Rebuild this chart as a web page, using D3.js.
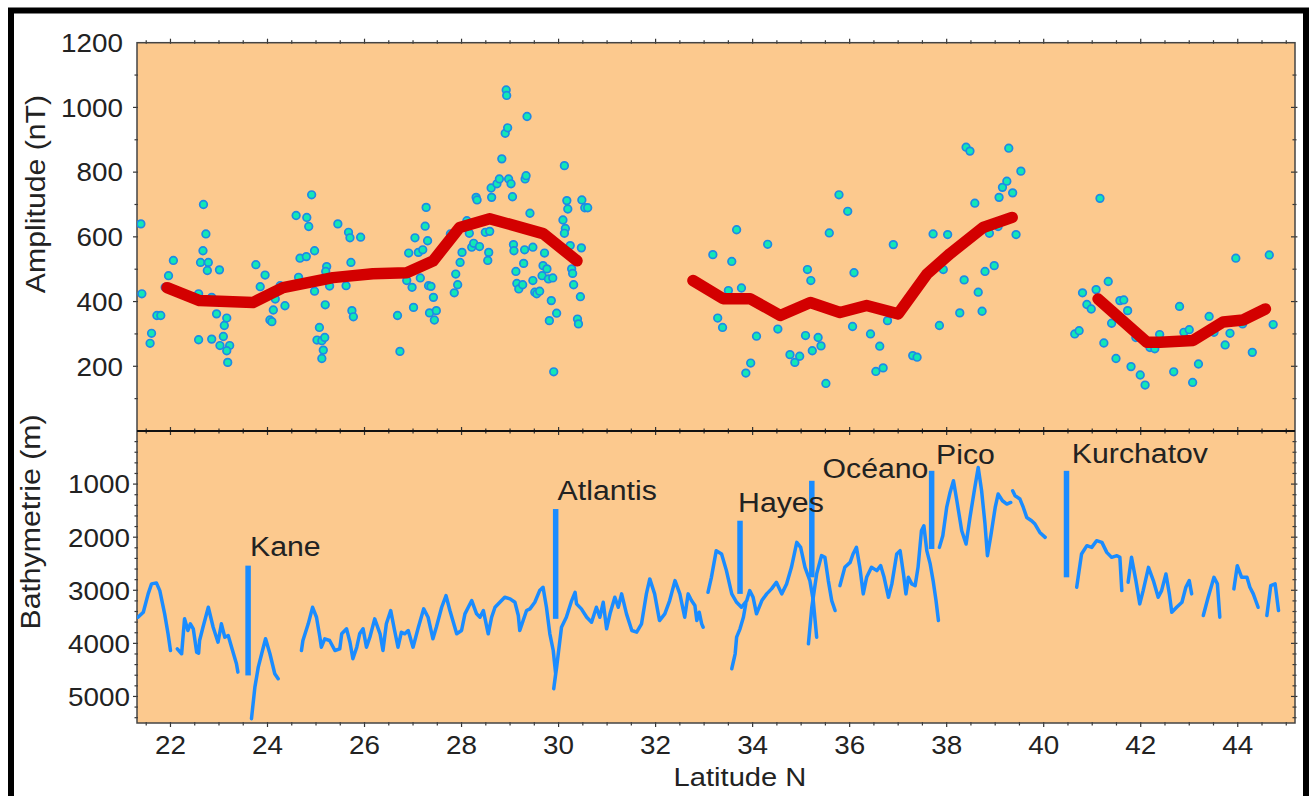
<!DOCTYPE html>
<html><head><meta charset="utf-8">
<script src="https://cdn.jsdelivr.net/npm/d3@7/dist/d3.min.js"></script>
<style>
html,body{margin:0;padding:0;background:#fff;}
svg text{font-family:"Liberation Sans",Arial,Helvetica,sans-serif;fill:#222;}
</style></head>
<body>
<svg id="chart" width="1309" height="796"></svg>
<script>
// ---------------- DATA ----------------
const scatterLat = [
21.39,21.41,21.58,21.61,21.72,21.80,21.89,21.96,22.06,22.58,22.58,22.62,22.67,22.68,22.73,22.78,22.76,22.85,22.95,23.01,
23.09,23.11,23.16,23.02,23.22,23.16,23.18,22.85,23.76,23.95,23.85,24.05,24.09,24.12,24.16,24.36,24.26,24.59,24.81,24.85,
24.91,24.97,24.67,24.80,24.64,24.97,25.19,25.07,25.02,25.12,25.18,25.15,25.12,25.22,25.20,25.28,25.45,25.67,25.70,25.72,
25.62,25.74,25.77,25.92,26.68,26.73,26.91,26.87,26.98,27.01,27.04,27.11,27.20,27.15,27.25,27.27,27.30,27.32,27.37,27.42,
27.34,27.48,27.44,27.77,27.85,27.88,27.92,27.97,28.01,28.11,28.16,28.21,28.25,28.30,28.32,28.37,28.49,28.54,28.56,28.58,
28.61,28.62,28.73,28.78,28.83,28.90,28.95,28.92,28.93,28.97,29.02,29.05,29.07,29.08,29.12,29.14,29.18,29.26,29.28,29.30,
29.31,29.33,29.35,29.41,29.47,29.47,29.51,29.55,29.61,29.66,29.68,29.71,29.76,29.79,29.88,29.85,29.81,29.96,29.90,30.09,
30.12,30.14,30.12,30.17,30.19,30.24,30.27,30.29,30.31,30.39,30.41,30.45,30.47,30.48,30.54,30.60,
33.18,33.67,33.57,33.50,33.77,33.28,33.38,34.08,33.96,33.86,34.31,34.52,34.77,34.87,34.97,35.09,35.13,35.20,35.23,35.35,
35.41,35.51,35.58,35.78,35.96,36.09,36.06,36.43,36.62,36.54,36.69,36.78,36.90,37.30,37.39,37.85,37.72,38.02,37.93,38.27,
38.36,38.58,38.40,38.48,38.65,38.73,38.79,38.88,38.98,39.06,39.08,39.15,39.24,39.28,39.36,39.43,39.53,
41.16,40.64,40.73,40.80,40.89,40.98,41.08,41.33,41.57,41.65,41.73,41.40,41.24,41.49,41.80,41.99,42.09,41.90,42.19,42.29,
42.39,42.68,42.80,42.89,43.00,43.19,43.07,43.41,43.51,43.84,43.74,44.10,43.96,44.30,44.65,44.73];
const scatterAmp = [
640,424,271,302,357,357,444,480,527,282,424,521,557,700,609,521,496,284,362,498,
292,326,349,264,264,248,212,413,514,482,446,343,338,374,408,387,449,666,660,632,
730,557,534,539,475,432,390,320,281,279,289,250,224,508,493,448,640,614,597,521,
449,372,353,599,357,246,550,465,444,382,597,552,560,473,633,691,588,449,447,413,
365,372,343,609,427,485,452,521,552,650,611,568,580,722,714,570,614,527,552,617,
751,722,764,779,841,920,937,1054,1037,779,764,724,576,557,493,456,439,452,518,560,
779,789,972,673,568,465,429,424,432,480,511,550,501,470,473,403,341,364,183,652,
820,626,611,712,686,573,501,487,452,346,331,415,566,714,690,690,
545,622,524,434,442,349,320,293,210,179,577,315,236,212,231,295,499,465,248,289,
263,147,612,730,679,489,323,300,262,184,195,341,576,233,228,326,609,607,499,365,
467,704,877,865,429,370,493,611,511,632,722,753,772,874,736,607,803,
719,300,310,427,391,377,437,462,403,405,372,333,272,224,199,173,142,289,258,254,
298,183,385,305,313,207,150,354,305,302,266,331,534,243,544,329];

// Smoothed amplitude trend (three survey sections): [latitude, amplitude nT]
const trendNorth1 = [[21.93,443],[22.60,403],[23.70,397],[24.32,443],[25.35,474],[26.17,486],[26.87,489],[27.41,525],[27.96,629],[28.58,656],[29.68,610],[30.38,526]];
const trendNorth2 = [[32.77,465],[33.39,409],[33.95,409],[34.57,357],[35.19,397],[35.80,366],[36.35,388],[37.00,362],[37.60,486],[38.07,548],[38.75,629],[39.35,660]];
const trendNorth3 = [[41.12,408],[42.13,274],[42.40,274],[43.08,280],[43.70,337],[44.11,343],[44.57,377]];

// Bathymetry profile pieces: [latitude, depth m]
const bathyA = [[21.33,3508],[21.44,3414],[21.54,3068],[21.61,2880],[21.71,2861],[21.78,3006],[21.88,3444],[21.95,3820],[22.00,4134]];
const bathyB = [[22.14,4102],[22.23,4196],[22.29,3538],[22.36,3758],[22.41,3632],[22.47,3726],[22.54,4166],[22.58,4185],[22.60,3946],[22.67,3696],[22.78,3320],[22.88,3696],[22.98,3978],[23.05,3632],[23.12,3884],[23.19,3852],[23.26,4072],[23.36,4384],[23.39,4542]];
const bathyC = [[23.67,5418],[23.74,4824],[23.81,4448],[23.88,4196],[23.96,3914],[24.05,4196],[24.15,4572],[24.22,4666]];
const bathyD = [[24.70,4134],[24.73,3946],[24.84,3632],[24.93,3320],[25.01,3508],[25.08,3884],[25.11,4072],[25.18,3914],[25.28,3946],[25.39,4134],[25.49,4102],[25.53,3820],[25.63,3726],[25.70,3978],[25.76,4290],[25.84,4072],[25.90,3820],[25.97,3726],[26.04,4072],[26.11,3884],[26.21,3538],[26.32,3820],[26.38,4134],[26.45,3632],[26.54,3382],[26.62,3758],[26.69,4072],[26.76,3790],[26.83,3820],[26.90,3758],[27.00,4072],[27.11,3696],[27.22,3350],[27.31,3508],[27.41,3914],[27.48,3696],[27.59,3320],[27.68,3100],[27.76,3382],[27.90,3820],[28.00,3758],[28.07,3444],[28.21,3194],[28.31,3444],[28.38,3508],[28.45,3382],[28.55,3820],[28.62,3508],[28.69,3320],[28.79,3226],[28.89,3132],[29.00,3162],[29.10,3226],[29.17,3476],[29.20,3758],[29.27,3570],[29.34,3382],[29.41,3350],[29.51,3226],[29.61,3006],[29.68,2944],[29.75,3320],[29.82,3820],[29.89,4134],[29.94,4572],[29.90,4854],[29.96,4448],[30.06,3696],[30.16,3508],[30.27,3194],[30.34,3038],[30.37,3256],[30.47,3350],[30.58,3508],[30.68,3602],[30.78,3320],[30.85,3508],[30.92,3226],[30.99,3726],[31.06,3444],[31.16,3132],[31.23,3320],[31.30,3068],[31.40,3444],[31.51,3758],[31.61,3790],[31.71,3632],[31.81,3068],[31.88,2786],[31.98,3068],[32.08,3570],[32.19,3444],[32.29,3194],[32.40,2818],[32.50,3068],[32.60,3508],[32.67,3068],[32.74,3194],[32.81,3288],[32.85,3570],[32.90,3414],[32.95,3632],[32.98,3696]];
const bathyE = [[33.08,3038],[33.15,2756],[33.25,2254],[33.36,2316],[33.46,2630],[33.57,3068],[33.67,3226],[33.77,3320],[33.88,3194],[33.94,3006],[34.01,3132],[34.08,3444],[34.19,3194],[34.29,3068],[34.39,2974],[34.49,2850],[34.60,3068],[34.70,2880],[34.80,2568],[34.91,2098],[34.99,2192],[35.08,2568],[35.18,2818],[35.25,3194],[35.32,3884]];
const bathyF = [[33.57,4478],[33.64,4196],[33.67,3884],[33.74,3726],[33.81,3508],[33.86,3250]];
const bathyG = [[35.15,4008],[35.22,3320],[35.32,2692],[35.42,2348],[35.49,2380],[35.56,2818],[35.63,3194],[35.70,3382]];
const bathyH = [[35.80,2912],[35.90,2568],[36.01,2474],[36.07,2316],[36.14,2192],[36.21,2568],[36.28,3068],[36.35,2756],[36.45,2568],[36.56,2630],[36.64,2536],[36.71,2756],[36.80,3132],[36.87,2880],[36.97,2316],[37.04,2254],[37.11,2692],[37.16,3068],[37.21,2756],[37.28,2880],[37.35,2912],[37.41,2568],[37.48,1878],[37.53,1784],[37.59,2254],[37.66,2504],[37.72,2818],[37.78,3194],[37.83,3570]];
const bathyI = [[37.85,2192],[37.92,1972],[38.00,1440],[38.07,1158],[38.14,938],[38.21,1314],[38.31,1878],[38.40,2128],[38.48,1628],[38.58,1064],[38.65,688],[38.72,1126],[38.79,1752],[38.84,2348],[38.91,1972],[39.00,1440],[39.06,1188],[39.15,1314],[39.24,1376],[39.32,1346]];
const bathyJ = [[39.36,1126],[39.41,1220],[39.51,1282],[39.58,1440],[39.65,1628],[39.75,1690],[39.82,1752],[39.92,1910],[40.03,2004]];
const bathyK = [[40.68,2944],[40.71,2756],[40.78,2316],[40.89,2160],[40.99,2192],[41.09,2066],[41.20,2098],[41.30,2286],[41.40,2380],[41.51,2348],[41.57,2380],[41.61,3006]];
const bathyL = [[41.74,2850],[41.81,2380],[41.90,2818],[41.98,3256],[42.05,3006],[42.16,2568],[42.26,2818],[42.36,3132],[42.43,3006],[42.52,2692],[42.59,3068],[42.64,3414],[42.74,3320],[42.85,3226],[42.93,2944],[43.00,2818],[43.05,3068]];
const bathyM = [[43.29,3476],[43.39,3132],[43.51,2756],[43.58,2880],[43.63,3508]];
const bathyN = [[43.92,2974],[43.99,2536],[44.08,2756],[44.19,2756],[44.25,2944],[44.32,3068],[44.42,3320]];
const bathyO = [[44.60,3476],[44.68,2912],[44.77,2880],[44.84,3382]];

// Fracture zones: name, latitude, bar top / bottom depth (m), label anchor (lat, depth)
const fzNames  = ["Kane","Atlantis","Hayes","Océano","Pico","Kurchatov"];
const fzLat    = [23.60, 29.94, 33.74, 35.22, 37.69, 40.47];
const fzTop    = [2536, 1470, 1690, 938, 750, 750];
const fzBottom = [4604, 3538, 3068, 2756, 2222, 2756];
const fzLabelLat   = [23.64, 29.98, 33.70, 35.44, 37.78, 40.58];
const fzLabelDepth = [2350, 1300, 1520, 880, 620, 600];

// Axis ticks
const xTicks = [22,24,26,28,30,32,34,36,38,40,42,44];
const ampTicks = [200,400,600,800,1000,1200];
const depthTicks = [1000,2000,3000,4000,5000];

// ---------------- DRAW ----------------
const svg = d3.select("#chart");
const L = 137, R = 1295, T = 42.7, MID = 431, B = 723;

const x = d3.scaleLinear().domain([21.31, 45.18]).range([L, R]);
const yA = d3.scaleLinear().domain([0, 1200]).range([MID, T]);
const yD = d3.scaleLinear().domain([0, 5500]).range([MID, B]);

// outer frame
svg.append("rect").attr("x",11).attr("y",10.5).attr("width",1295).attr("height",820)
  .attr("fill","#fff").attr("stroke","#000").attr("stroke-width",6);

// plot background
svg.append("rect").attr("x",L).attr("y",T).attr("width",R-L).attr("height",B-T)
  .attr("fill","#fcc98e");

const tickCol = "#333";
function minorRange(a,b,s){const r=[];for(let v=a;v<=b+1e-9;v+=s)r.push(+v.toFixed(3));return r;}

// x ticks on top, divider and bottom
const xMinor = minorRange(21.5,45,0.5);
const gx = svg.append("g").attr("stroke",tickCol).attr("stroke-width",1.2);
xMinor.forEach(v=>{
  const major = xTicks.includes(v);
  const len = major?4:2.5;
  const px = x(v);
  gx.append("line").attr("x1",px).attr("x2",px).attr("y1",T-len).attr("y2",T+1);
  gx.append("line").attr("x1",px).attr("x2",px).attr("y1",MID-len).attr("y2",MID+len);
  gx.append("line").attr("x1",px).attr("x2",px).attr("y1",B-1).attr("y2",B+len);
});
// y ticks
const gy = svg.append("g").attr("stroke",tickCol).attr("stroke-width",1.2);
minorRange(100,1100,100).forEach(v=>{
  const major = ampTicks.includes(v); const len = major?4:2.5;
  gy.append("line").attr("x1",L-len).attr("x2",L+1).attr("y1",yA(v)).attr("y2",yA(v));
  gy.append("line").attr("x1",R-len).attr("x2",R+len*0.6).attr("y1",yA(v)).attr("y2",yA(v));
});
minorRange(200,5400,200).forEach(v=>{
  const major = depthTicks.includes(v); const len = major?4:2.5;
  gy.append("line").attr("x1",L-len).attr("x2",L+1).attr("y1",yD(v)).attr("y2",yD(v));
  gy.append("line").attr("x1",R-len).attr("x2",R+len*0.6).attr("y1",yD(v)).attr("y2",yD(v));
});

// frame of plot area + divider
svg.append("rect").attr("x",L).attr("y",T).attr("width",R-L).attr("height",B-T)
  .attr("fill","none").attr("stroke","#444").attr("stroke-width",1.5);
svg.append("line").attr("x1",L).attr("x2",R).attr("y1",MID).attr("y2",MID)
  .attr("stroke","#111").attr("stroke-width",2);

// tick labels
const FS = 26;
const tickTexts = [];
tickTexts.push(svg.append("g").selectAll("text").data(ampTicks).join("text")
  .attr("x",123).attr("y",d=>yA(d)).attr("dy","0.36em").attr("text-anchor","end")
  .attr("font-size",FS).text(d=>d));
tickTexts.push(svg.append("g").selectAll("text").data(depthTicks).join("text")
  .attr("x",130).attr("y",d=>yD(d)).attr("dy","0.36em").attr("text-anchor","end")
  .attr("font-size",FS).text(d=>d));
tickTexts.push(svg.append("g").selectAll("text").data(xTicks).join("text")
  .attr("x",d=>x(d)).attr("y",754).attr("text-anchor","middle")
  .attr("font-size",FS).text(d=>d));

// axis titles
const titles = [];
titles.push(svg.append("text").attr("transform","translate(45,194) rotate(-90)").attr("text-anchor","middle")
  .attr("font-size",27).text("Amplitude (nT)"));
titles.push(svg.append("text").attr("transform","translate(40,522) rotate(-90)").attr("text-anchor","middle")
  .attr("font-size",27).text("Bathymetrie (m)"));
titles.push(svg.append("text").attr("x",740).attr("y",786).attr("text-anchor","middle")
  .attr("font-size",26).text("Latitude N"));

// clip
svg.append("clipPath").attr("id","clipA").append("rect").attr("x",L).attr("y",T).attr("width",R-L).attr("height",MID-T);
svg.append("clipPath").attr("id","clipD").append("rect").attr("x",L).attr("y",MID).attr("width",R-L).attr("height",B-MID);

// scatter
const pts = scatterLat.map((v,i)=>[v,scatterAmp[i]]);
svg.append("g").attr("clip-path","url(#clipA)").selectAll("circle").data(pts).join("circle")
  .attr("cx",d=>x(d[0])).attr("cy",d=>yA(d[1])).attr("r",3.8)
  .attr("fill","#12e8b4").attr("stroke","#1e8ae6").attr("stroke-width",1.7);

// trend line
const lineA = d3.line().x(d=>x(d[0])).y(d=>yA(d[1])).curve(d3.curveLinear);
svg.append("g").selectAll("path").data([trendNorth1,trendNorth2,trendNorth3]).join("path")
  .attr("d",lineA).attr("fill","none").attr("stroke","#d30000").attr("stroke-width",11.5)
  .attr("stroke-linecap","round").attr("stroke-linejoin","round");

// bathymetry
const lineD = d3.line().x(d=>x(d[0])).y(d=>yD(d[1]));
const bathy = [bathyA,bathyB,bathyC,bathyD,bathyE,bathyF,bathyG,bathyH,bathyI,bathyJ,bathyK,bathyL,bathyM,bathyN,bathyO];
svg.append("g").attr("clip-path","url(#clipD)").selectAll("path").data(bathy).join("path")
  .attr("d",lineD).attr("fill","none").attr("stroke","#1a8cff").attr("stroke-width",3.5)
  .attr("stroke-linejoin","round").attr("stroke-linecap","round");

// fracture-zone bars and labels
const fz = fzNames.map((n,i)=>({n,lat:fzLat[i],top:fzTop[i],bot:fzBottom[i],ll:fzLabelLat[i],ld:fzLabelDepth[i]}));
svg.append("g").selectAll("line").data(fz).join("line")
  .attr("x1",d=>x(d.lat)).attr("x2",d=>x(d.lat)).attr("y1",d=>yD(d.top)).attr("y2",d=>yD(d.bot))
  .attr("stroke","#1a8cff").attr("stroke-width",5.5);
const fzText = svg.append("g").selectAll("text").data(fz).join("text")
  .attr("x",d=>x(d.ll)).attr("y",d=>yD(d.ld)).attr("font-size",27).text(d=>d.n);

// widen glyphs slightly to match the reference typeface proportions
function widen(sel, k){
  sel.each(function(){
    const w = this.getComputedTextLength();
    d3.select(this).attr("textLength", w*k).attr("lengthAdjust","spacingAndGlyphs");
  });
}
tickTexts.forEach(s=>widen(s,1.07));
titles.forEach(s=>widen(s,1.12));
widen(fzText,1.12);
</script>
</body></html>
